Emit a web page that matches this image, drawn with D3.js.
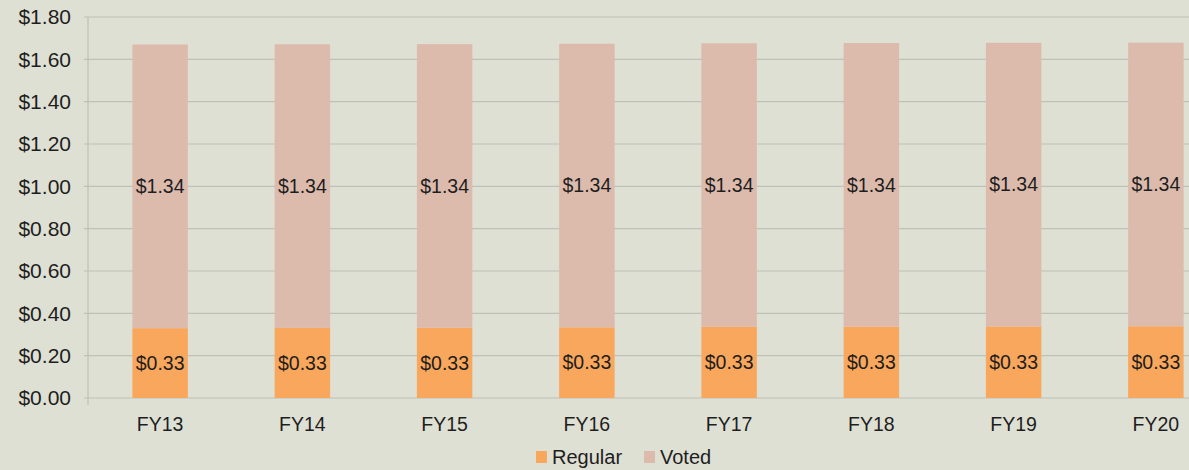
<!DOCTYPE html>
<html><head><meta charset="utf-8">
<script src="https://cdn.jsdelivr.net/npm/d3@7"></script>
<style>
html,body{margin:0;padding:0;background:#dfe0d4;}
svg{display:block;font-family:"Liberation Sans","Open Sans",Arial,sans-serif;}
</style></head>
<body><svg id="c" width="1189" height="470"></svg>
<script>
const categories = ["FY13","FY14","FY15","FY16","FY17","FY18","FY19","FY20"];
const regular = [0.330,0.331,0.332,0.334,0.336,0.337,0.338,0.339];
const voted   = [1.34,1.34,1.34,1.34,1.34,1.34,1.34,1.34];
const yTicks  = [0,0.2,0.4,0.6,0.8,1.0,1.2,1.4,1.6,1.8];
const seriesNames = ["Regular","Voted"];
const colors = {Regular:"#f9a75c", Voted:"#dcbbad"};

const svg = d3.select("#c");
svg.append("rect").attr("width",1189).attr("height",470).attr("fill","#dfe0d4");

const x = d3.scaleBand().domain(categories).range([89,1227]).paddingInner(0.61).paddingOuter(0.305);
const y = d3.scaleLinear().domain([0,1.8]).range([398,17]);
const fmt = v => "$" + (Math.floor(v*100+1e-6)/100).toFixed(2);

// gridlines
svg.append("g").selectAll("line").data(yTicks).join("line")
  .attr("x1",84).attr("x2",1189).attr("y1",d=>y(d)).attr("y2",d=>y(d))
  .attr("stroke","#bfc0b6").attr("stroke-width",1.2);
// vertical axis line
svg.append("line").attr("x1",88).attr("x2",88).attr("y1",y(1.8)).attr("y2",y(0)+7)
  .attr("stroke","#bfc0b6").attr("stroke-width",1.2);

// y labels
const yAxis = d3.axisLeft(y).tickValues(yTicks).tickFormat(d=>"$"+d.toFixed(2)).tickSize(0).tickPadding(0);
const yg = svg.append("g").attr("transform","translate(71,0)").call(yAxis);
yg.select(".domain").remove();
yg.selectAll("text").attr("font-size",21).attr("fill","#1e1e1e");

// bars
const data = categories.map((c,i)=>({c, r:regular[i], v:voted[i]}));
svg.append("g").selectAll("rect").data(data).join("rect")
  .attr("x",d=>x(d.c)).attr("width",x.bandwidth())
  .attr("y",d=>y(d.r)).attr("height",d=>y(0)-y(d.r)).attr("fill",colors.Regular);
svg.append("g").selectAll("rect").data(data).join("rect")
  .attr("x",d=>x(d.c)).attr("width",x.bandwidth())
  .attr("y",d=>y(d.r+d.v)).attr("height",d=>y(d.r)-y(d.r+d.v)).attr("fill",colors.Voted);

// value labels
const lab = svg.append("g").attr("font-size",19.5).attr("fill","#1e1e1e").attr("text-anchor","middle");
lab.selectAll("text.r").data(data).join("text").attr("class","r")
  .attr("x",d=>x(d.c)+x.bandwidth()/2).attr("y",d=>y(d.r/2)).attr("dy","0.35em").text(d=>fmt(d.r));
lab.selectAll("text.v").data(data).join("text").attr("class","v")
  .attr("x",d=>x(d.c)+x.bandwidth()/2).attr("y",d=>y(d.r+d.v/2)).attr("dy","0.35em").text(d=>fmt(d.v));

// x labels
const xAxis = d3.axisBottom(x).tickSize(0).tickPadding(0);
const xg = svg.append("g").attr("transform","translate(0,417)").call(xAxis);
xg.select(".domain").remove();
xg.selectAll("text").attr("font-size",19.5).attr("fill","#1e1e1e");

// legend
const leg = svg.append("g").attr("font-size",20).attr("fill","#1e1e1e");
const legX = [536,644];
seriesNames.forEach((s,i)=>{
  leg.append("rect").attr("x",legX[i]).attr("y",451).attr("width",11).attr("height",12).attr("fill",colors[s]);
  leg.append("text").attr("x",legX[i]+16).attr("y",457).attr("dy","0.35em").text(s);
});
</script></body></html>
